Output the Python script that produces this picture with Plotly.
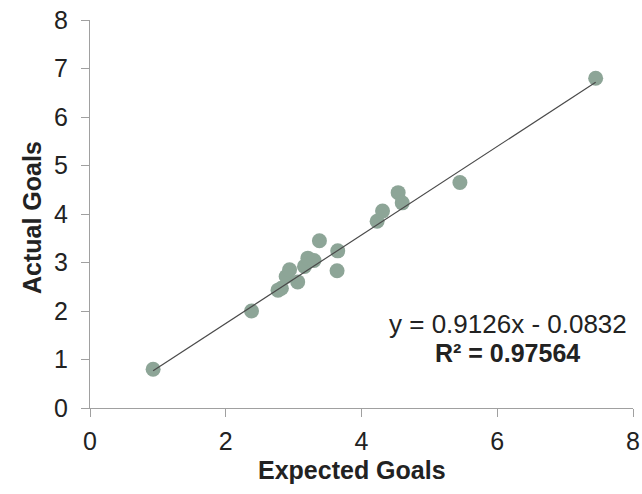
import plotly.graph_objects as go

expected_goals = [0.93, 2.38, 2.77, 2.82, 2.89, 2.94, 3.06, 3.16, 3.21, 3.30, 3.38, 3.64, 3.65,
                  4.23, 4.31, 4.54, 4.60, 5.45, 7.45]
actual_goals = [0.80, 2.00, 2.43, 2.47, 2.71, 2.85, 2.60, 2.92, 3.09, 3.04, 3.45, 2.83, 3.24,
                3.85, 4.06, 4.44, 4.23, 4.65, 6.80]
slope = 0.9126
intercept = -0.0832
r_squared = 0.97564
x_ticks = [0, 2, 4, 6, 8]
y_ticks = [0, 1, 2, 3, 4, 5, 6, 7, 8]

xmin, xmax = min(expected_goals), max(expected_goals)
line_x = [xmin, xmax]
line_y = [slope * v + intercept for v in line_x]

fig = go.Figure()
fig.add_trace(go.Scatter(x=expected_goals, y=actual_goals, mode="markers",
                         marker=dict(size=15, color="#8da597", line=dict(width=0)),
                         showlegend=False))
fig.add_trace(go.Scatter(x=line_x, y=line_y, mode="lines",
                         line=dict(color="#4a4a4a", width=1.2), showlegend=False))

W, H = 642, 494
plot_left, plot_right, plot_top, plot_bottom = 90, 633, 20, 408
L, T = plot_left, plot_top
R, B = W - plot_right, H - plot_bottom
pw, ph = plot_right - plot_left, plot_bottom - plot_top


def px(xp):
    return (xp - plot_left) / pw


def py(yp):
    return (plot_bottom - yp) / ph


font_family = "Liberation Sans, Arial, sans-serif"
txt = "#222222"
fig.update_layout(
    width=W, height=H,
    margin=dict(l=L, r=R, t=T, b=B, autoexpand=False),
    plot_bgcolor="white", paper_bgcolor="white",
    font=dict(family=font_family, size=22, color=txt),
    xaxis=dict(range=[0, 8], tickvals=x_ticks, showgrid=False, zeroline=False,
               showline=True, linecolor="#a0a0a0", linewidth=1,
               ticks="outside", ticklen=8, tickcolor="#a0a0a0",
               ticklabelstandoff=3, automargin=False,
               tickfont=dict(size=25, color=txt)),
    yaxis=dict(range=[0, 8], tickvals=y_ticks, showgrid=False, zeroline=False,
               showline=True, linecolor="#a0a0a0", linewidth=1,
               ticks="outside", ticklen=8, tickcolor="#a0a0a0",
               ticklabelstandoff=8, automargin=False,
               tickfont=dict(size=25, color=txt)),
    annotations=[
        dict(text="<b>Expected Goals</b>", xref="paper", yref="paper",
             x=px(352), y=py(470), xanchor="center", yanchor="middle",
             showarrow=False, font=dict(size=25, color=txt)),
        dict(text="<b>Actual Goals</b>", xref="paper", yref="paper",
             x=px(32), y=py(218), xanchor="center", yanchor="middle", textangle=-90,
             showarrow=False, font=dict(size=25, color=txt)),
        dict(text=f"y = {slope}x - {abs(intercept)}", xref="paper", yref="paper",
             x=px(508), y=py(324), xanchor="center", yanchor="middle",
             showarrow=False, font=dict(size=26, color=txt)),
        dict(text=f"<b>R² = {r_squared}</b>", xref="paper", yref="paper",
             x=px(507), y=py(353), xanchor="center", yanchor="middle",
             showarrow=False, font=dict(size=25, color=txt)),
    ],
)

fig.write_html("out.html",
               config={"displayModeBar": False},
               post_script="document.body.style.margin='0';document.body.style.overflow='hidden';")
